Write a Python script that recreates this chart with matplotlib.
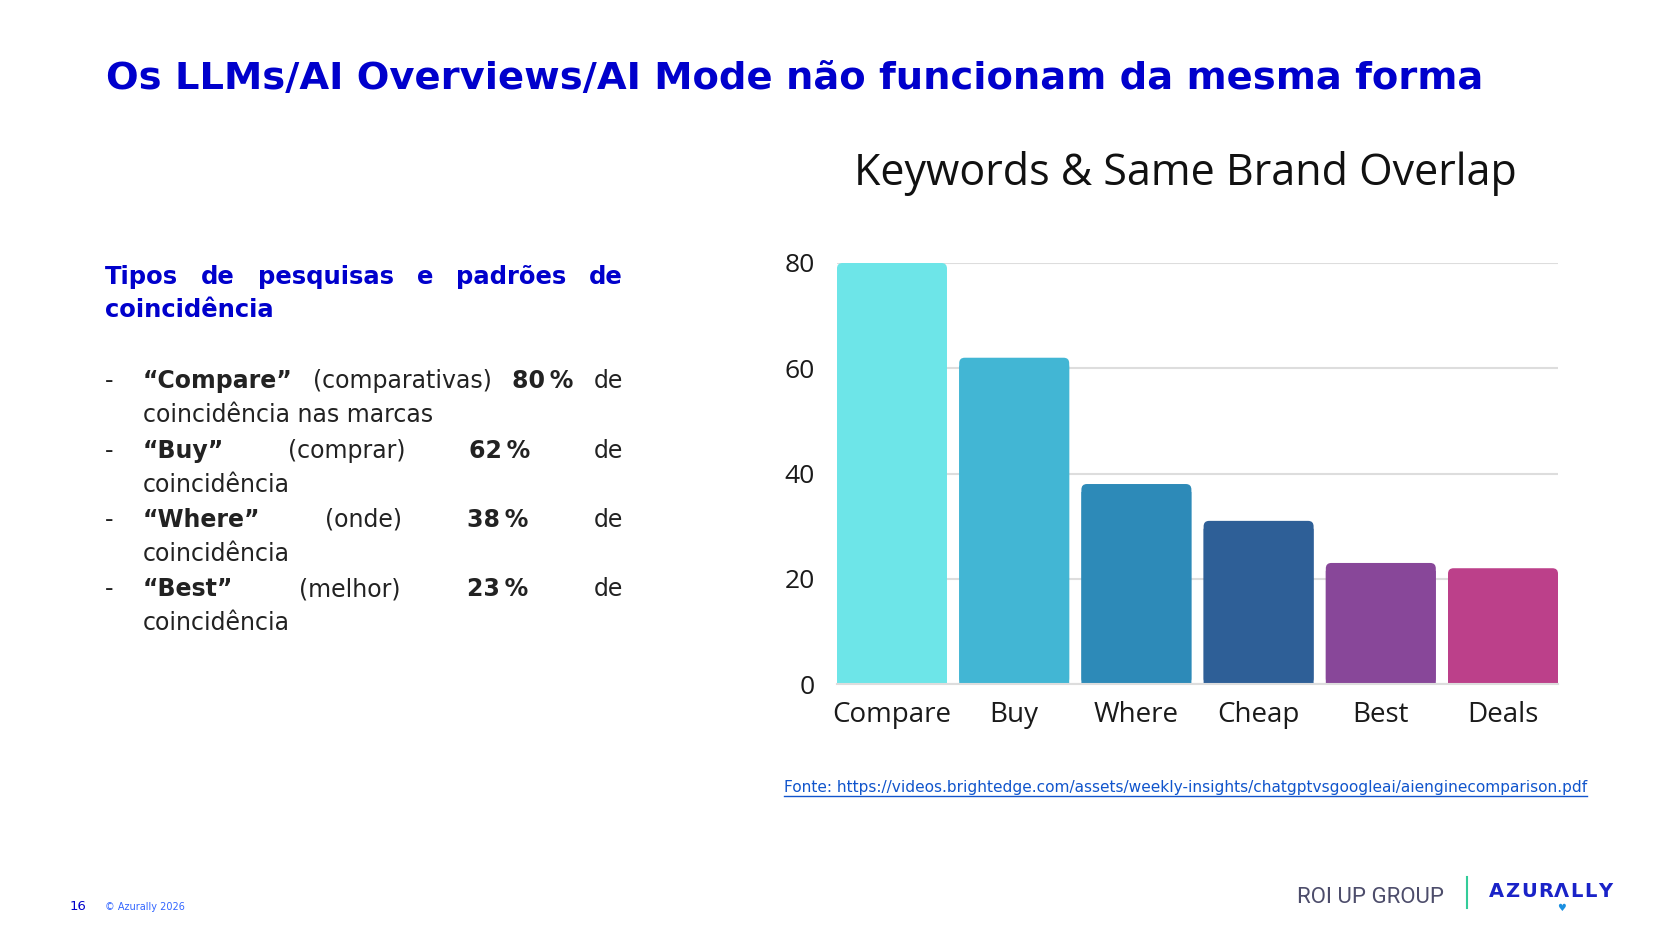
import matplotlib
matplotlib.use("Agg")
import matplotlib.pyplot as plt
from matplotlib.lines import Line2D
from matplotlib.patches import FancyBboxPatch

W, H = 1679, 935

categories = ["Compare", "Buy", "Where", "Cheap", "Best", "Deals"]
overlap = [80, 62, 38, 31, 23, 22]
bar_colors = ["#6DE5E8", "#42B6D4", "#2D8AB8", "#2E5F97", "#884799", "#BC408A"]
y_ticks = [0, 20, 40, 60, 80]

slide_title = "Os LLMs/AI Overviews/AI Mode não funcionam da mesma forma"
chart_title = "Keywords & Same Brand Overlap"
heading_1 = ["Tipos", "de", "pesquisas", "e", "padrões", "de"]
heading_2 = "coincidência"

# each bullet: (justified first line, second line)
bullets = [
    ([("\u201cCompare\u201d", "bold"), ("(comparativas)", "normal"), ("80\u202f%", "bold"), ("de", "normal")],
     "coincidência nas marcas"),
    ([("\u201cBuy\u201d", "bold"), ("(comprar)", "normal"), ("62\u202f%", "bold"), ("de", "normal")],
     "coincidência"),
    ([("\u201cWhere\u201d", "bold"), ("(onde)", "normal"), ("38\u202f%", "bold"), ("de", "normal")],
     "coincidência"),
    ([("\u201cBest\u201d", "bold"), ("(melhor)", "normal"), ("23\u202f%", "bold"), ("de", "normal")],
     "coincidência"),
]
source = "Fonte: https://videos.brightedge.com/assets/weekly-insights/chatgptvsgoogleai/aienginecomparison.pdf"
logo_letters = list("AZUR\u039bLLY")

BLUE = "#0000CC"
TEXT = "#222222"

fig = plt.figure(figsize=(W / 100, H / 100), dpi=100)
fig.patch.set_facecolor("white")


def fx(x):
    return x / W


def fy(y):
    return 1 - y / H


renderer = fig.canvas.get_renderer()


def justify(words, y, x0, x1, size, color, family="DejaVu Sans"):
    # place words so the line fills x0..x1 like justified text
    texts = []
    total = 0
    for w, weight in words:
        t = fig.text(0, fy(y), w, fontsize=size, fontweight=weight, color=color,
                     va="baseline", family=family)
        total += t.get_window_extent(renderer).width
        texts.append(t)
    gap = (x1 - x0 - total) / (len(texts) - 1)
    x = x0
    for t in texts:
        t.set_x(fx(x))
        x += t.get_window_extent(renderer).width + gap
    return texts


# slide title
fig.text(fx(106), fy(89), slide_title, fontsize=27.7, fontweight="bold", color=BLUE,
         va="baseline", family="DejaVu Sans")

# left text block
justify([(w, "bold") for w in heading_1], 284, 105, 623, 17.5, BLUE)
fig.text(fx(105), fy(317), heading_2, fontsize=17.5, fontweight="bold", color=BLUE,
         va="baseline", family="DejaVu Sans")

line_y = [388, 458, 527, 596]
for (first, second), y in zip(bullets, line_y):
    fig.text(fx(105), fy(y), "-", fontsize=17, color=TEXT, va="baseline", family="DejaVu Sans")
    justify(first, y, 143, 623, 17, TEXT)
    fig.text(fx(143), fy(y + 34), second, fontsize=17, color=TEXT, va="baseline",
             family="DejaVu Sans")

# chart
ax = fig.add_axes([fx(837), fy(684), (1558 - 837) / W, (684 - 263) / H])
x = list(range(len(categories)))
bars = ax.bar(x, overlap, width=0.9, color=bar_colors, zorder=3)
ax.set_xlim(-0.45, len(categories) - 0.55)
ax.set_ylim(0, 80)

# rounded top corners: the plain bar keeps the square bottom, a rounded box draws the top
px_x = 721 / 5.9
px_y = 421 / 80
for b, c in zip(bars, bar_colors):
    full = b.get_height()
    b.set_height(full - 1.5)
    b.set_snap(False)
    ax.add_patch(FancyBboxPatch((b.get_x(), 0), b.get_width(), full,
                                boxstyle="round,pad=0,rounding_size=0.045",
                                mutation_aspect=px_x / px_y, facecolor=c,
                                edgecolor="none", zorder=3, snap=False))

ax.set_yticks(y_ticks)
ax.set_xticks(x)
ax.set_xticklabels(categories)
ax.yaxis.grid(True, color="#DDDDDD", linewidth=1.5, zorder=0)
ax.xaxis.grid(False)
for s in ["top", "right", "left"]:
    ax.spines[s].set_visible(False)
ax.spines["bottom"].set_color("#DDDDDD")
ax.spines["bottom"].set_linewidth(1.5)
ax.spines["bottom"].set_zorder(4)
ax.tick_params(axis="both", length=0, labelcolor="#1a1a1a")
ax.tick_params(axis="y", pad=16, labelsize=19)
ax.tick_params(axis="x", pad=12, labelsize=20)
for lab in ax.get_xticklabels() + ax.get_yticklabels():
    lab.set_family("Open Sans")

fig.text(fx(1185), fy(185), chart_title, fontsize=31, color="#111111", ha="center",
         va="baseline", family="Open Sans")

# source link with underline
src = fig.text(fx(784), fy(792), source, fontsize=11.1, color="#1155CC", va="baseline",
               family="DejaVu Sans")
bb = src.get_window_extent(renderer)
fig.add_artist(Line2D([bb.x0 / W, bb.x1 / W], [fy(796), fy(796)], color="#1155CC",
                      linewidth=1, transform=fig.transFigure))

# footer
fig.text(fx(70), fy(910), "16", fontsize=9.5, color=BLUE, va="baseline", family="DejaVu Sans")
fig.text(fx(105), fy(910), "© Azurally 2026", fontsize=7, color="#3366FF", va="baseline",
         family="DejaVu Sans")
fig.text(fx(1297), fy(903), "ROI UP GROUP", fontsize=16, color="#4D4D6B", va="baseline",
         family="Roboto")
fig.add_artist(Line2D([fx(1467), fx(1467)], [fy(877), fy(908)], color="#33CC99",
                      linewidth=1.5, transform=fig.transFigure))
logo = justify([(ch, "bold") for ch in logo_letters], 897, 1489, 1612, 14, "#1A23C8")
lb = logo[4].get_window_extent(renderer)
fig.text((lb.x0 + lb.x1) / 2 / W, fy(911), "\u2665", fontsize=7, color="#1A8FE0",
         ha="center", va="baseline", family="DejaVu Sans")

fig.savefig("out.png", dpi=100)
